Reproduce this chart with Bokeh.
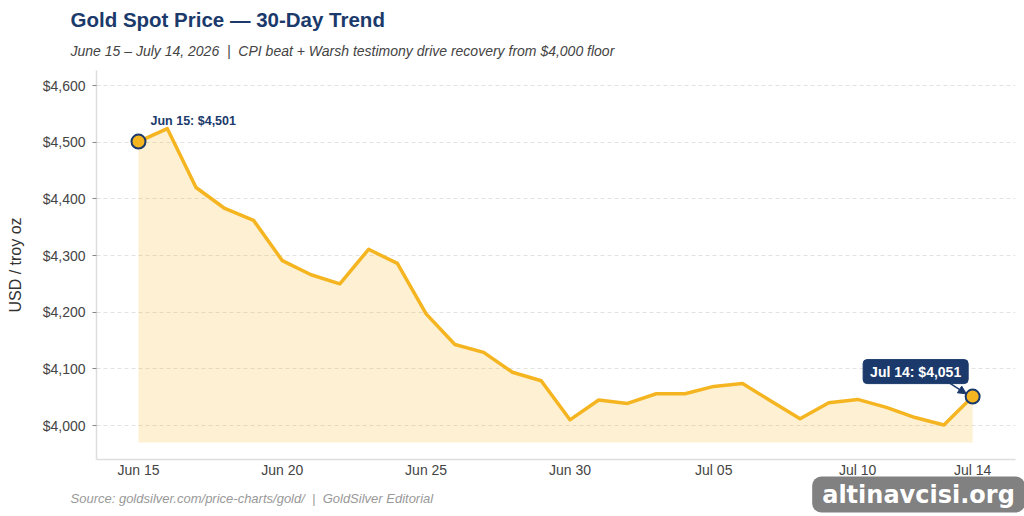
from datetime import datetime, timedelta
from bokeh.plotting import figure
from bokeh.models import (Range1d, FixedTicker, DatetimeTickFormatter, NumeralTickFormatter,
                          Label, Arrow, NormalHead, ColumnDataSource)
from bokeh.embed import file_html
from bokeh.resources import INLINE

# ---- data ----
dates = ["2026-06-15", "2026-06-16", "2026-06-17", "2026-06-18", "2026-06-19", "2026-06-20",
         "2026-06-21", "2026-06-22", "2026-06-23", "2026-06-24", "2026-06-25", "2026-06-26",
         "2026-06-27", "2026-06-28", "2026-06-29", "2026-06-30", "2026-07-01", "2026-07-02",
         "2026-07-03", "2026-07-04", "2026-07-05", "2026-07-06", "2026-07-07", "2026-07-08",
         "2026-07-09", "2026-07-10", "2026-07-11", "2026-07-12", "2026-07-13", "2026-07-14"]
prices = [4501, 4524, 4420, 4383, 4362, 4291, 4266, 4250, 4311, 4286, 4197, 4143,
          4129, 4094, 4079, 4010, 4045, 4039, 4056, 4056, 4069, 4074, 4043, 4012,
          4040, 4046, 4032, 4014, 4001, 4051]
fill_floor = 3970
xtick_dates = ["2026-06-15", "2026-06-20", "2026-06-25", "2026-06-30", "2026-07-05", "2026-07-10", "2026-07-14"]
yticks = [4000, 4100, 4200, 4300, 4400, 4500, 4600]

title_text = "Gold Spot Price \u2014 30-Day Trend"
subtitle_text = "June 15 \u2013 July 14, 2026 \u00a0|\u00a0 CPI beat + Warsh testimony drive recovery from $4,000 floor"
source_text = "Source: goldsilver.com/price-charts/gold/ \u00a0|\u00a0 GoldSilver Editorial"
first_label = "Jun 15: $4,501"
last_label = "Jul 14: $4,051"
watermark = "altinavcisi.org"

GOLD = "#F5B521"
NAVY = "#1B3A6B"
FONT = "Liberation Sans"

xs = [datetime.strptime(d, "%Y-%m-%d") for d in dates]
src = ColumnDataSource(dict(x=xs, y=prices, base=[fill_floor] * len(xs)))

day = timedelta(days=1)
x0 = xs[0] - day * 1.46
x1 = xs[-1] + day * 1.49

p = figure(width=1024, height=516, x_axis_type="datetime", output_backend="svg",
           toolbar_location=None, x_range=Range1d(x0, x1), y_range=Range1d(3940, 4626.5),
           min_border_left=96, min_border_right=9, min_border_top=70, min_border_bottom=57)
p.outline_line_color = None
p.background_fill_color = "white"
p.border_fill_color = "white"
p.title = None

p.varea(x="x", y1="base", y2="y", source=src, fill_color=GOLD, fill_alpha=0.2)
p.line(x="x", y="y", source=src, line_color=GOLD, line_width=3.5, line_join="round")

ends = ColumnDataSource(dict(x=[xs[0], xs[-1]], y=[prices[0], prices[-1]]))
p.scatter(x="x", y="y", source=ends, size=14, fill_color=GOLD, line_color=NAVY, line_width=2)

# axes
p.xaxis.ticker = FixedTicker(ticks=[datetime.strptime(d, "%Y-%m-%d").timestamp() * 1000 for d in xtick_dates])
p.xaxis.formatter = DatetimeTickFormatter(days="%b %d", months="%b %d")
p.yaxis.ticker = FixedTicker(ticks=yticks)
p.yaxis.formatter = NumeralTickFormatter(format="$0,0")
for ax in (p.xaxis[0], p.yaxis[0]):
    ax.axis_line_color = "#dddddd"
    ax.axis_line_width = 1.5
    ax.major_label_text_font = FONT
    ax.major_label_text_font_size = "14px"
    ax.major_label_text_color = "#444444"
    ax.minor_tick_line_color = None
    ax.minor_tick_out = 0
p.xaxis.major_tick_line_color = None
p.xaxis.major_tick_out = 0
p.xaxis.major_tick_in = 0
p.xaxis.major_label_standoff = 2
p.yaxis.major_tick_line_color = "#888888"
p.yaxis.major_tick_in = 0
p.yaxis.major_tick_out = 4
p.yaxis.major_label_standoff = 7
p.yaxis.axis_label = "USD / troy oz"
p.yaxis.axis_label_text_font = FONT
p.yaxis.axis_label_text_font_size = "16px"
p.yaxis.axis_label_text_font_style = "normal"
p.yaxis.axis_label_text_color = "#333333"
p.yaxis.axis_label_standoff = 16

p.xgrid.grid_line_color = None
p.ygrid.grid_line_color = "#e2e2e2"
p.ygrid.grid_line_dash = "4 3"
p.ygrid.grid_line_width = 1

# texts in side panels (coordinates relative to each panel box)
p.add_layout(Label(x=-26, y=-428, x_units="screen", y_units="screen", text=source_text,
                   text_baseline="alphabetic",
                   text_font=FONT, text_font_size="13px", text_font_style="italic",
                   text_color="#999999"), "above")
p.add_layout(Label(x=-26, y=5, x_units="screen", y_units="screen", text=subtitle_text,
                   text_baseline="alphabetic",
                   text_font=FONT, text_font_size="14px", text_font_style="italic",
                   text_color="#444444"), "above")
p.add_layout(Label(x=-26, y=20, x_units="screen", y_units="screen", text=title_text,
                   text_baseline="alphabetic",
                   text_font=FONT, text_font_size="20.5px", text_font_style="bold",
                   text_color=NAVY), "above")
p.add_layout(Label(x=822, y=22, x_units="screen", y_units="screen", text=watermark,
                   text_align="center", text_baseline="middle",
                   text_font="DejaVu Sans", text_font_size="24px", text_font_style="bold",
                   text_color="white", background_fill_color="#7a7a7a", background_fill_alpha=0.95,
                   padding=(10, 4), border_radius=9), "below")

# point annotations
p.add_layout(Label(x=xs[0], y=prices[0], x_offset=12, y_offset=14, text=first_label,
                   text_font=FONT, text_font_size="12.5px", text_font_style="bold", text_color=NAVY))
p.add_layout(Label(x=xs[-1], y=prices[-1], x_offset=-57, y_offset=25, text=last_label,
                   text_align="center", text_baseline="middle",
                   text_font=FONT, text_font_size="14px", text_font_style="bold", text_color="white",
                   background_fill_color=NAVY, border_line_color=NAVY, padding=(7, 4), border_radius=4))
p.add_layout(Arrow(x_start=xs[-1] - day * 0.84, y_start=prices[-1] + 25,
                   x_end=xs[-1] - day * 0.22, y_end=prices[-1] + 5,
                   line_color=NAVY, line_width=1.5,
                   end=NormalHead(size=8, fill_color=NAVY, line_color=NAVY)))

open("out.html", "w").write(file_html(p, INLINE))
